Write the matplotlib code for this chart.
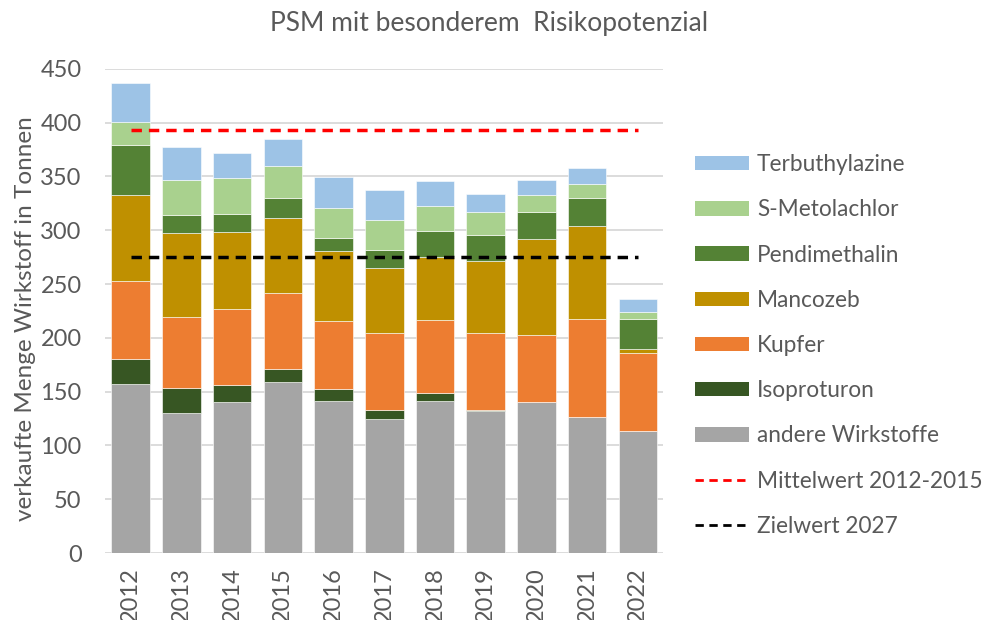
import numpy as np
import matplotlib.pyplot as plt
from matplotlib.patches import Patch
from matplotlib.lines import Line2D

plt.rcParams['font.family'] = ['Lato', 'DejaVu Sans']

years = ['2012', '2013', '2014', '2015', '2016', '2017', '2018', '2019', '2020', '2021', '2022']

# Tonnen je Wirkstoff (von unten nach oben gestapelt)
andere = [157, 130.5, 140, 159, 141, 124.7, 141, 131.8, 140, 126, 113.3]
isoproturon = [23, 23, 16.2, 12, 11, 8, 7.4, 1.2, 0.3, 0.2, 0]
kupfer = [73, 65.6, 70.2, 70.3, 63.7, 71.8, 68.3, 71.5, 62.3, 91.5, 72.3]
mancozeb = [80, 78, 72, 70.5, 65.4, 60, 58.2, 66.5, 89.3, 86.3, 3.7]
pendimethalin = [46, 17, 16.4, 18, 11.6, 16.8, 24.4, 24.6, 24.8, 25.7, 27.9]
s_metolachlor = [22, 33, 33.5, 30, 28.3, 28.6, 22.9, 21.7, 15.8, 13.6, 7]
terbuthylazine = [36, 30.3, 23.1, 25, 28.1, 27.5, 23.8, 16.4, 14.5, 14.9, 11.5]

mittelwert = 393
zielwert = 275

series = [
    ('andere Wirkstoffe', andere, '#A5A5A5'),
    ('Isoproturon', isoproturon, '#375623'),
    ('Kupfer', kupfer, '#ED7D31'),
    ('Mancozeb', mancozeb, '#BF9000'),
    ('Pendimethalin', pendimethalin, '#548235'),
    ('S-Metolachlor', s_metolachlor, '#A9D18E'),
    ('Terbuthylazine', terbuthylazine, '#9DC3E6'),
]

fig = plt.figure(figsize=(9.84, 6.2), dpi=100)
ax = fig.add_axes([0.107, 0.108, 0.567, 0.781])

x = np.arange(len(years))
bottom = np.zeros(len(years))
handles = []
for name, vals, col in series:
    ax.bar(x, vals, 0.76, bottom=bottom, color=col, edgecolor='white', linewidth=0.4, zorder=3)
    bottom += np.array(vals)
    handles.append(Patch(facecolor=col, label=name))

ax.plot([x[0], x[-1]], [mittelwert, mittelwert], color='#FF0000', lw=2.5, ls=(0, (3, 2)), zorder=4)
ax.plot([x[0], x[-1]], [zielwert, zielwert], color='black', lw=2.5, ls=(0, (3, 2)), zorder=4)

ax.set_xlim(-0.5, len(years) - 0.5)
ax.set_ylim(0, 450)
ax.set_yticks(np.arange(0, 451, 50))
ax.set_xticks(x)
ax.set_xticklabels(years, rotation=90)
ax.grid(axis='y', color='#D9D9D9', lw=1.3, zorder=0)
for s in ax.spines.values():
    s.set_visible(False)
ax.tick_params(length=0, labelsize=17, colors='#595959')
ax.tick_params(axis='x', pad=10)
ax.tick_params(axis='y', pad=17)
ax.set_ylabel('verkaufte Menge Wirkstoff in Tonnen', fontsize=17.5, color='#595959')
ax.yaxis.set_label_coords(-0.125, 0.485)

fig.suptitle('PSM mit besonderem  Risikopotenzial', x=0.497, y=0.982, fontsize=19, color='#595959')

handles = handles[::-1]
handles.append(Line2D([], [], color='#FF0000', lw=2, ls=(0, (3, 2)), label='Mittelwert 2012-2015'))
handles.append(Line2D([], [], color='black', lw=2, ls=(0, (3, 2)), label='Zielwert 2027'))
leg = fig.legend(handles=handles, loc='upper left', bbox_to_anchor=(0.697, 0.766), frameon=False,
                 fontsize=16.3, labelcolor='#595959', handlelength=2.4, handleheight=0.6,
                 labelspacing=1.07, handletextpad=0.34, borderaxespad=0)

fig.savefig('out.png', dpi=100)
